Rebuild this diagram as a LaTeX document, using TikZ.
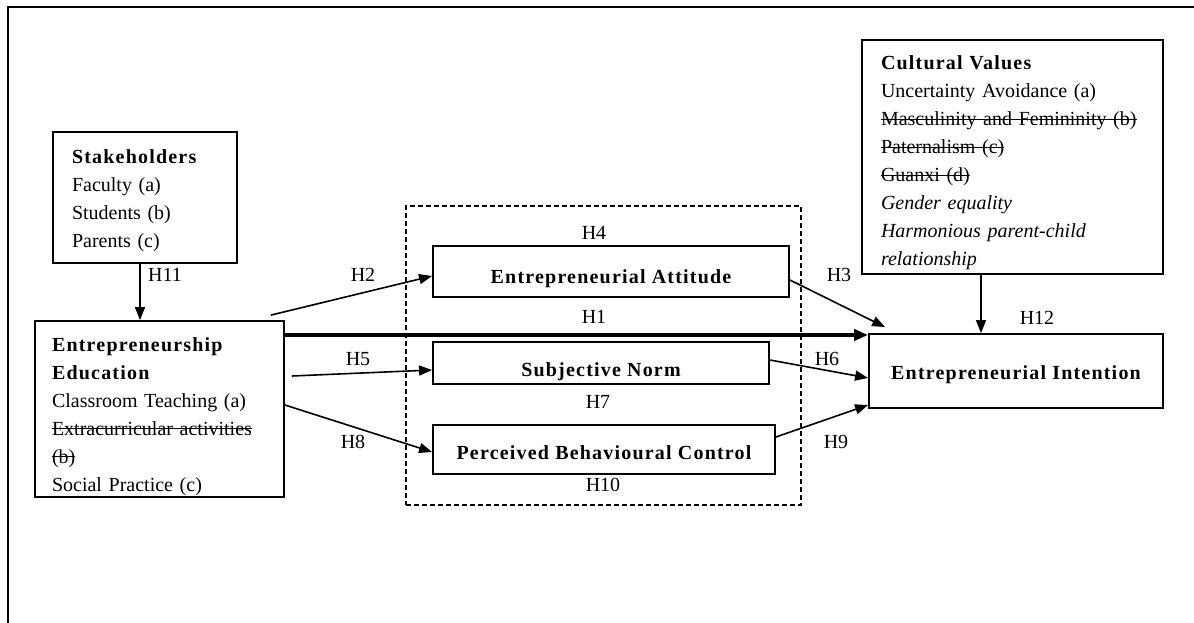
\documentclass[tikz,border=0pt]{standalone}
\usepackage{fontspec}
\setmainfont{Liberation Serif}[BoldFeatures={LetterSpace=6}]
\newsavebox\strkbox
\newcommand\strk[1]{\leavevmode\sbox\strkbox{#1}\rlap{\rule[0.3em]{\wd\strkbox}{1.3pt}}\usebox\strkbox}
\newcommand\topstrut[1]{\rule{0pt}{#1}}
\usetikzlibrary{arrows.meta,calc}
\begin{document}
\begin{tikzpicture}[x=1pt,y=-1pt,font=\fontsize{20}{28}\selectfont,
  box/.style={draw,line width=1.8pt,inner sep=0pt},
  listbox/.style={box,align=left},
  titlebox/.style={box,font=\fontsize{20}{28}\selectfont\bfseries,text depth=0pt},
  arr/.style={-{Triangle[length=13pt,width=10pt]},line width=1.6pt},
  thickarr/.style={-{Triangle[length=14pt,width=11pt]},line width=4.5pt},
  hlab/.style={inner sep=0pt},
  grpbox/.style={draw,dash pattern=on 5pt off 3pt,line width=1.4pt,inner sep=0pt}]
\useasboundingbox (0,0) rectangle (1194,623);
\draw[line width=2.6pt] (8,623) -- (8,7) -- (1194,7);

\node[grpbox,minimum width=395pt,minimum height=299pt] (grp) at (603.5,355.5) {};

\node[listbox,minimum width=184pt,minimum height=131pt,text width=146pt,inner xsep=19pt] (sh) at (145,197.5)
  {\topstrut{21pt}\textbf{Stakeholders}\\Faculty (a)\\Students (b)\\Parents (c)};
\node[listbox,minimum width=249pt,minimum height=176pt,text width=215pt,inner xsep=17pt] (ee) at (159.5,409)
  {\topstrut{29pt}\textbf{Entrepreneurship}\\\textbf{Education}\\Classroom Teaching (a)\\\strk{Extracurricular activities}\\\strk{(b)}\\Social Practice (c)};
\node[listbox,minimum width=301pt,minimum height=234pt,text width=263pt,inner xsep=19pt] (cv) at (1012.5,157)
  {\topstrut{26pt}\textbf{Cultural Values}\\Uncertainty Avoidance (a)\\\strk{Masculinity and Femininity (b)}\\\strk{Paternalism (c)}\\\strk{Guanxi (d)}\\\textit{Gender equality}\\\textit{Harmonious parent-child}\\\textit{relationship}};

\node[titlebox,minimum width=356pt,minimum height=51pt,text height=23pt] (ea) at (611,271.5) {Entrepreneurial Attitude};
\node[titlebox,minimum width=336pt,minimum height=42pt,text height=27pt] (sn) at (601,363) {Subjective Norm};
\node[titlebox,minimum width=342pt,minimum height=49pt,text height=19pt] (pbc) at (604,449.5) {Perceived Behavioural Control};
\node[titlebox,minimum width=294pt,minimum height=74pt,text height=16pt] (ei) at (1016,371) {Entrepreneurial Intention};

\draw[arr] ([xshift=-5pt]sh.south) -- ([xshift=-19.5pt]ee.north);
\draw[arr] ([xshift=-31.5pt]cv.south) -- ([xshift=-35pt]ei.north);
\draw[arr] ([shift={(-14pt,5pt)}]ee.north east) -- ([yshift=-4.5pt]ea.west);
\draw[arr] ([shift={(7pt,33pt)}]ee.east) -- ([yshift=-7pt]sn.west);
\draw[arr] ([yshift=4pt]ee.east) -- ([yshift=-2.5pt]pbc.west);
\draw[thickarr] ([yshift=74pt]ee.east) -- ([yshift=36pt]ei.west);
\draw[arr] ([yshift=-8.5pt]ea.east) -- ([shift={(17pt,6pt)}]ei.north west);
\draw[arr] ([yshift=3pt]sn.east) -- ([yshift=-7pt]ei.west);
\draw[arr] ([yshift=12.5pt]pbc.east) -- ([yshift=-34pt]ei.west);

\node[hlab] (h11) at (165,275) {H11};
\node[hlab] (h2) at (363,275) {H2};
\node[hlab] (h5) at (358,359) {H5};
\node[hlab] (h8) at (353,442) {H8};
\node[hlab] (h4) at (594,233) {H4};
\node[hlab] (h1) at (594,317) {H1};
\node[hlab] (h7) at (598,402) {H7};
\node[hlab] (h10) at (603,485) {H10};
\node[hlab] (h3) at (839,275) {H3};
\node[hlab] (h6) at (827,359) {H6};
\node[hlab] (h9) at (836,442) {H9};
\node[hlab] (h12) at (1037,318) {H12};
\end{tikzpicture}
\end{document}
